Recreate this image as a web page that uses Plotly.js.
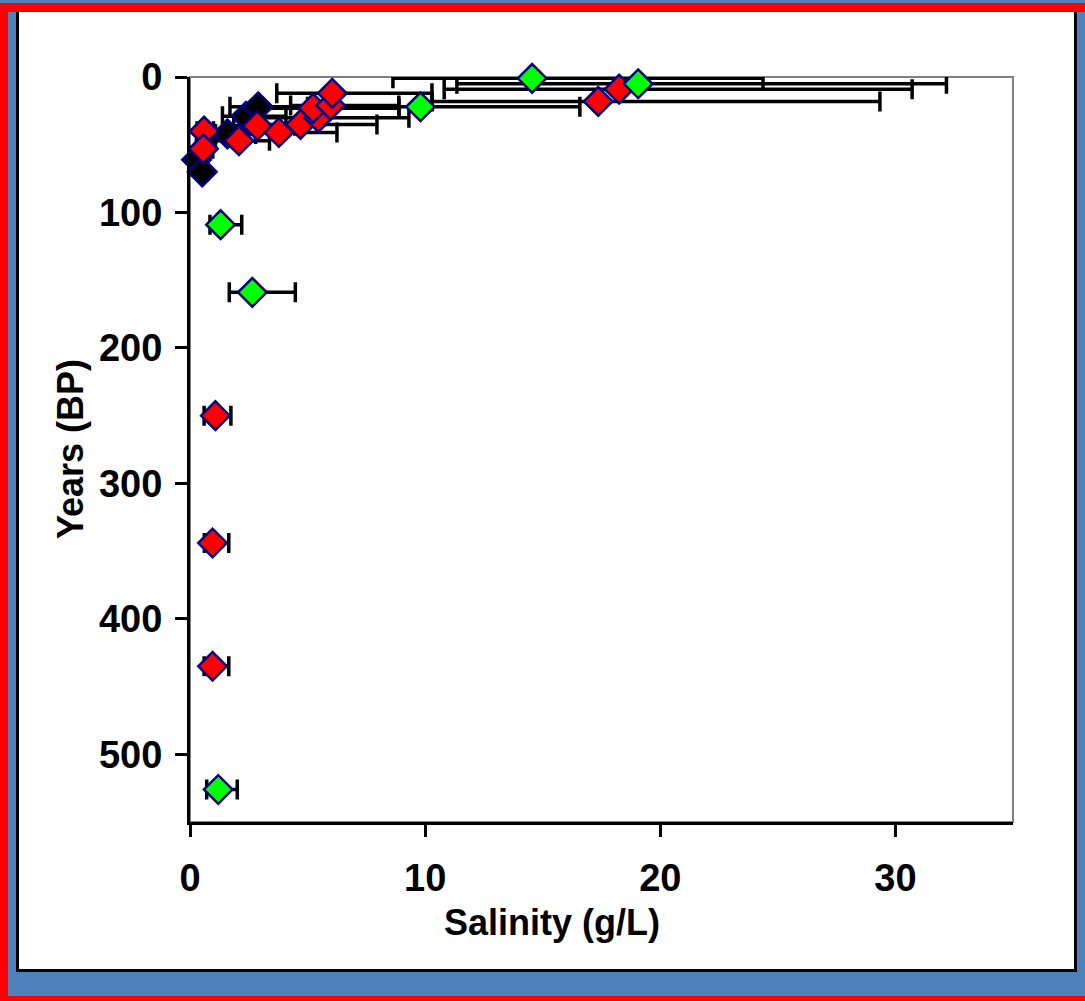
<!DOCTYPE html>
<html>
<head>
<meta charset="utf-8">
<script src="https://cdn.plot.ly/plotly-3.0.1.min.js"></script>
<style>
  html, body { margin: 0; padding: 0; background: #4F81BD; }
  #chart { width: 1085px; height: 1001px; }
</style>
</head>
<body>
<div id="chart"></div>
<script>
// Salinity reconstructions (g/L) against age (years BP), three sample groups.
const blackSalinity = [0.28, 0.52, 1.59, 2.38, 2.9];
const blackYears    = [61, 70, 42, 29, 22];
const blackErrPlus  = [0.2, 0.2, 1.2, 1.7, 2.1];
const blackErrMinus = [0.15, 0.15, 0.5, 1.0, 1.2];

const redSalinity = [0.6, 0.57, 2.08, 2.86, 3.78, 4.7, 5.46, 5.24, 5.98, 6.05, 17.36, 18.25, 1.08, 0.96, 0.96];
const redYears    = [40, 53, 47, 36, 41, 35, 30, 23, 21, 12, 18, 9, 250, 344, 435];
const redErrPlus  = [0.4, 0.4, 1.3, 1.6, 2.47, 3.25, 3.85, 3.65, 2.9, 4.24, 11.98, 12.46, 0.66, 0.69, 0.69];
const redErrMinus = [0.3, 0.3, 1.0, 1.0, 1.5, 1.9, 2.3, 2.2, 1.7, 2.36, 7.06, 7.44, 0.48, 0.35, 0.36];

const greenSalinity = [14.55, 19.06, 9.8, 1.3, 2.65, 1.2];
const greenYears    = [1, 5, 22, 109, 159, 526];
const greenErrPlus  = [9.82, 13.11, 6.78, 0.9, 1.83, 0.81];
const greenErrMinus = [5.92, 7.71, 3.9, 0.45, 0.98, 0.49];

const xTicks = [0, 10, 20, 30];
const yTicks = [0, 100, 200, 300, 400, 500];

const groups = [
  {x: blackSalinity, y: blackYears, ep: blackErrPlus, em: blackErrMinus, color: '#000000'},
  {x: redSalinity,   y: redYears,   ep: redErrPlus,   em: redErrMinus,   color: '#FF0000'},
  {x: greenSalinity, y: greenYears, ep: greenErrPlus, em: greenErrMinus, color: '#00FF00'}
];

// Error bars first so every marker sits on top of every bar.
const traces = [];
groups.forEach(g => {
  traces.push({
    type: 'scatter', mode: 'markers', x: g.x, y: g.y, cliponaxis: false,
    marker: {size: 1, color: 'rgba(0,0,0,0)', line: {width: 0}},
    error_x: {type: 'data', symmetric: false, array: g.ep, arrayminus: g.em,
              color: '#000000', thickness: 3.5, width: 10},
    hoverinfo: 'skip', showlegend: false
  });
});
groups.forEach(g => {
  traces.push({
    type: 'scatter', mode: 'markers', x: g.x, y: g.y, cliponaxis: false,
    marker: {symbol: 'diamond', size: 22, color: g.color,
             line: {color: '#000080', width: 2.5}},
    hoverinfo: 'skip', showlegend: false
  });
});

// Plot area in pixels: x 190..1013, y 77..822
const L = 190, R = 1013, T = 77, B = 822;
const px = X => (X - L) / (R - L);
const py = Y => (B - Y) / (B - T);

const titleFont = {family: 'Liberation Sans, Arial, sans-serif', size: 36, color: '#000000', weight: 'bold'};
const tickFont  = {family: 'Liberation Sans, Arial, sans-serif', size: 38, color: '#000000', weight: 'bold'};

const axisCommon = {
  showgrid: false, zeroline: false, showline: true,
  linecolor: '#000000', linewidth: 3,
  ticks: 'outside', ticklen: 12, tickwidth: 3, tickcolor: '#000000',
  tickfont: tickFont, fixedrange: true
};

const layout = {
  width: 1085, height: 1001,
  margin: {l: L, r: 1085 - R, t: T, b: 1001 - B},
  paper_bgcolor: '#4F81BD',
  plot_bgcolor: '#FFFFFF',
  showlegend: false,
  hovermode: false,
  xaxis: Object.assign({}, axisCommon, {range: [0, 35], tickvals: xTicks, ticktext: xTicks.map(String), ticklabelstandoff: 8}),
  yaxis: Object.assign({}, axisCommon, {range: [550, 0], tickvals: yTicks, ticktext: yTicks.map(String), ticklabelstandoff: 5}),
  shapes: [
    {type: 'rect', xref: 'paper', yref: 'paper', layer: 'below',
     x0: px(17.5), x1: px(1075.5), y0: py(6), y1: py(970.5),
     fillcolor: '#FFFFFF', line: {color: '#000000', width: 3}},
    {type: 'rect', xref: 'paper', yref: 'paper', layer: 'below',
     x0: 0, x1: 1, y0: 0, y1: 1,
     fillcolor: 'rgba(0,0,0,0)', line: {color: '#808080', width: 2}},
    {type: 'rect', xref: 'paper', yref: 'paper', layer: 'above',
     x0: px(0), x1: px(1085), y0: py(3), y1: py(12),
     fillcolor: '#FF0000', line: {width: 0}},
    {type: 'rect', xref: 'paper', yref: 'paper', layer: 'above',
     x0: px(0), x1: px(8), y0: py(3), y1: py(1001),
     fillcolor: '#FF0000', line: {width: 0}},
    {type: 'rect', xref: 'paper', yref: 'paper', layer: 'above',
     x0: px(0), x1: px(1085), y0: py(996), y1: py(1001),
     fillcolor: '#FF0000', line: {width: 0}}
  ],
  annotations: [
    {text: 'Salinity (g/L)', xref: 'paper', yref: 'paper',
     x: px(552), y: py(922), xanchor: 'center', yanchor: 'middle',
     showarrow: false, font: titleFont},
    {text: 'Years (BP)', xref: 'paper', yref: 'paper', textangle: -90,
     x: px(70), y: py(449), xanchor: 'center', yanchor: 'middle',
     showarrow: false, font: titleFont}
  ]
};

Plotly.newPlot('chart', traces, layout, {staticPlot: true, displayModeBar: false});
</script>
</body>
</html>
